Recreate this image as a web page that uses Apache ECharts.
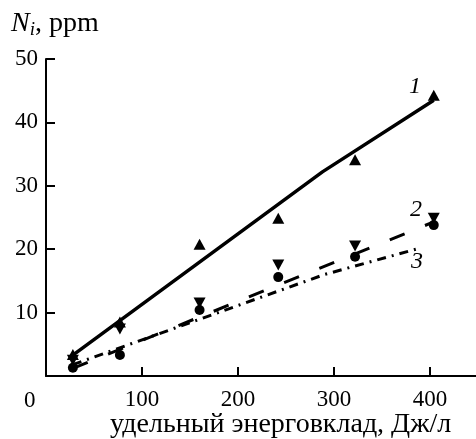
<!DOCTYPE html>
<html>
<head>
<meta charset="utf-8">
<script src="https://cdn.jsdelivr.net/npm/echarts@6/dist/echarts.min.js"></script>
<style>html,body{margin:0;padding:0;background:#fff}#c{width:476px;height:439px}</style>
</head>
<body>
<div id="c"></div>
<script>
// Measured points
const xPoints = [28, 77, 160, 242, 322, 404];
const s1Values = [3.4, 8.5, 20.8, 24.9, 34.1, 44.3];   // triangles up
const s2Values = [2.5, 7.4, 11.5, 17.5, 20.5, 24.9];   // triangles down
const s3Values = [1.3, 3.3, 10.4, 15.6, 18.8, 23.8];   // circles
// Fitted lines
const line1 = [[28, 3.3], [288, 32.2], [404, 43.5]];
const line2 = [[28, 1.2], [404, 24.3]];
const line3 = [[28, 1.8], [290, 16.0], [390, 20.2]];
const xTicks = [100, 200, 300, 400];
const yTicks = [10, 20, 30, 40, 50];
const xTitle = 'удельный энерговклад, Дж/л';
const lineLabels = ['1', '2', '3'];

const FONT = 'Liberation Serif';
const chart = echarts.init(document.getElementById('c'), null, {renderer: 'canvas'});
const pts = v => xPoints.map((x, i) => [x, v[i]]);
const axisStyle = {lineStyle: {color: '#000', width: 2}};
const tickRich = {a: {fontFamily: FONT, fontSize: 23, color: '#000'}};
chart.setOption({
  animation: false,
  textStyle: {fontFamily: FONT},
  grid: {left: 46, right: 0, top: 59, bottom: 63, containLabel: false},
  xAxis: {
    type: 'value', min: 0, max: 448, interval: 100,
    axisLine: {show: true, onZero: false, ...axisStyle},
    axisTick: {show: true, inside: true, length: 9, customValues: xTicks, lineStyle: {color: '#000', width: 2}},
    axisLabel: {customValues: xTicks, color: '#000', fontFamily: FONT, fontSize: 23, margin: 12,
      formatter: v => '{a|' + v + '}', rich: tickRich},
    splitLine: {show: false}
  },
  yAxis: {
    type: 'value', min: 0, max: 50, interval: 10,
    axisLine: {show: true, onZero: false, ...axisStyle},
    axisTick: {show: true, inside: true, length: 9, customValues: yTicks, lineStyle: {color: '#000', width: 2}},
    axisLabel: {customValues: yTicks, color: '#000', fontFamily: FONT, fontSize: 23, margin: 8,
      formatter: v => '{a|' + v + '}', rich: tickRich},
    splitLine: {show: false}
  },
  series: [
    {type: 'line', data: line1, symbol: 'none', lineStyle: {color: '#000', width: 3.5}, z: 2},
    {type: 'line', data: line2, symbol: 'none', lineStyle: {color: '#000', width: 3, type: [16, 22]}, z: 2},
    {type: 'line', data: line3, symbol: 'none', lineStyle: {color: '#000', width: 3, type: [9, 6, 2, 6]}, z: 2},
    {type: 'scatter', data: pts(s1Values), symbol: 'triangle', symbolSize: [12, 11], itemStyle: {color: '#000', opacity: 1}, z: 3},
    {type: 'scatter', data: pts(s2Values), symbol: 'triangle', symbolRotate: 180, symbolSize: [12, 11], itemStyle: {color: '#000', opacity: 1}, z: 3},
    {type: 'scatter', data: pts(s3Values), symbol: 'circle', symbolSize: 10, itemStyle: {color: '#000', opacity: 1}, z: 3}
  ],
  graphic: [
    {type: 'text', left: 24, top: 389, style: {text: '0', font: '23px ' + FONT, fill: '#000'}},
    {type: 'text', left: 110, top: 411, style: {text: xTitle, font: '28px ' + FONT, fill: '#000'}},
    {type: 'text', left: 11, top: 10, style: {
      text: '{n|N}{s|i}{t|, ppm}', fill: '#000',
      rich: {
        n: {fontFamily: FONT, fontSize: 28, fontStyle: 'italic', fill: '#000'},
        s: {fontFamily: FONT, fontSize: 19, fontStyle: 'italic', fill: '#000', padding: [12, 0, 0, 0]},
        t: {fontFamily: FONT, fontSize: 28, fill: '#000'}
      }}},
    {type: 'text', left: 409, top: 75, style: {text: lineLabels[0], font: 'italic 24px ' + FONT, fill: '#000'}},
    {type: 'text', left: 410, top: 198, style: {text: lineLabels[1], font: 'italic 24px ' + FONT, fill: '#000'}},
    {type: 'text', left: 411, top: 250, style: {text: lineLabels[2], font: 'italic 24px ' + FONT, fill: '#000'}}
  ]
});
</script>
</body>
</html>
